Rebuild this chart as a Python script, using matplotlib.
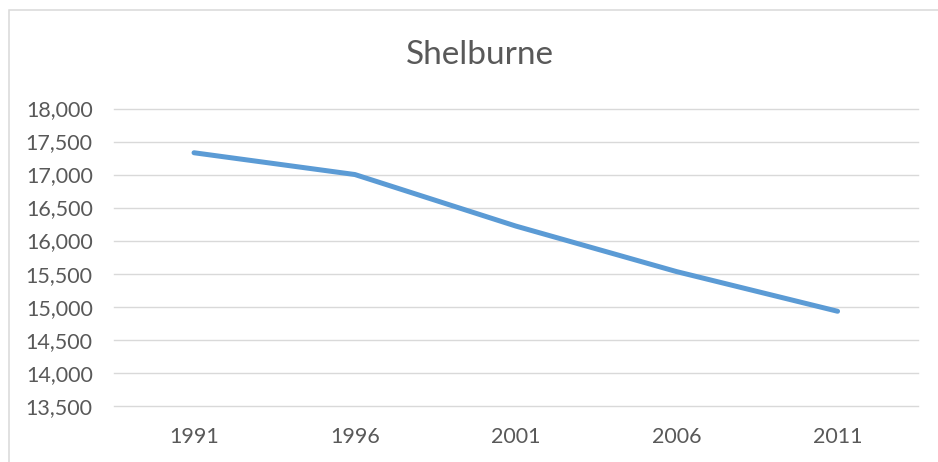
import matplotlib.pyplot as plt
from matplotlib.patches import Rectangle
from matplotlib.ticker import FuncFormatter

# data
years = ['1991', '1996', '2001', '2006', '2011']
population = [17330, 17000, 16220, 15530, 14930]
y_ticks = [13500, 14000, 14500, 15000, 15500, 16000, 16500, 17000, 17500, 18000]

text_color = '#595959'
grid_color = '#D9D9D9'
line_color = '#5B9BD5'

plt.rcParams['font.family'] = ['Lato', 'DejaVu Sans']

W, H = 938, 462
fig = plt.figure(figsize=(W / 100, H / 100), dpi=100)

# chart border (cropped on right and bottom)
fig.patches.append(Rectangle((8.5 / W, -0.1), 1.2, 1.1 - 10.5 / H,
                             transform=fig.transFigure, fill=False,
                             edgecolor=grid_color, linewidth=1.1))

left, right = 113.6 / W, 918 / W
top, bottom = 1 - 108.5 / H, 1 - 405.7 / H
ax = fig.add_axes([left, bottom, right - left, top - bottom])

x = list(range(len(years)))
ax.plot(x, population, color=line_color, linewidth=3.6,
        solid_capstyle='round', solid_joinstyle='round', zorder=3)

ax.set_xlim(-0.5, len(years) - 0.5)
ax.set_ylim(y_ticks[0], y_ticks[-1])
ax.set_yticks(y_ticks)
ax.yaxis.set_major_formatter(FuncFormatter(lambda v, p: f'{int(v):,}'))
ax.set_xticks(x)
ax.set_xticklabels(years)

ax.grid(axis='y', color=grid_color, linewidth=1.0)
for gl in ax.get_ygridlines():
    gl.set_clip_on(False)
ax.set_axisbelow(True)
for s in ax.spines.values():
    s.set_visible(False)
ax.tick_params(axis='both', length=0, colors=text_color, labelsize=15.5)
ax.tick_params(axis='y', pad=15)
ax.tick_params(axis='x', pad=15)

fig.text(480 / W, 1 - 63.5 / H, 'Shelburne', ha='center', va='baseline',
         fontsize=24, color=text_color)

fig.savefig('out.png', dpi=100, facecolor='white')
